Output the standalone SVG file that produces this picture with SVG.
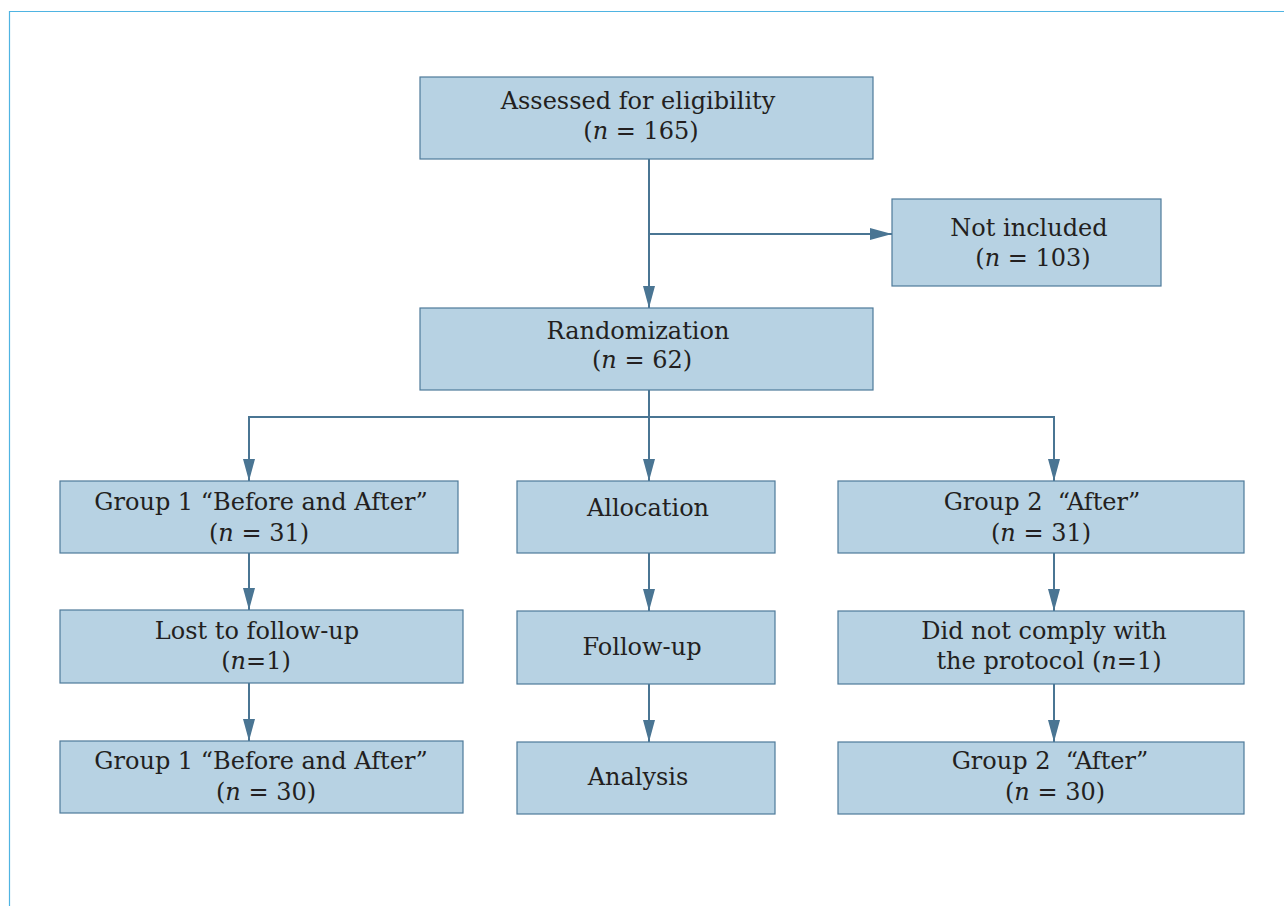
<svg xmlns="http://www.w3.org/2000/svg" width="1284" height="906" viewBox="0 0 1284 906">
<style>
.box{fill:#b7d2e3;stroke:#4e7a99;stroke-width:1.2}
.t{font-family:"DejaVu Serif","Liberation Serif",serif;font-size:24px;fill:#231f20;text-anchor:middle}
.i{font-style:italic}
.c{fill:none;stroke:#4a7593;stroke-width:2}
</style>
<defs>
<marker id="ah" viewBox="0 0 22 12" refX="22" refY="6" markerWidth="22" markerHeight="12" markerUnits="userSpaceOnUse" orient="auto">
<path d="M0,0 L22,6 L0,12 Z" fill="#4a7593"/>
</marker>
</defs>
<rect width="1284" height="906" fill="#ffffff"/>
<path d="M9.5,906 V11.5 H1284" fill="none" stroke="#4fb4e2" stroke-width="1.2"/>
<g id="connectors">
<path class="c" d="M649,159 V308" marker-end="url(#ah)"/>
<path class="c" d="M649,234 H892" marker-end="url(#ah)"/>
<path class="c" d="M649,390 V481" marker-end="url(#ah)"/>
<path class="c" d="M249,481 V417 H1054 V481" marker-end="url(#ah)"/>
<path class="c" d="M249,417 V481" marker-end="url(#ah)"/>
<path class="c" d="M249,553 V610" marker-end="url(#ah)"/>
<path class="c" d="M649,553 V611" marker-end="url(#ah)"/>
<path class="c" d="M1054,553 V611" marker-end="url(#ah)"/>
<path class="c" d="M249,683 V741" marker-end="url(#ah)"/>
<path class="c" d="M649,684 V742" marker-end="url(#ah)"/>
<path class="c" d="M1054,684 V742" marker-end="url(#ah)"/>
</g>
<g id="assessed">
<rect class="box" x="420" y="77" width="453" height="82"/>
<text class="t" x="638" y="109">Assessed for eligibility</text>
<text class="t" x="641" y="139">(<tspan class="i">n</tspan> = 165)</text>
</g>
<g id="not-included">
<rect class="box" x="892" y="199" width="269" height="87"/>
<text class="t" x="1029" y="236">Not included</text>
<text class="t" x="1033" y="266">(<tspan class="i">n</tspan> = 103)</text>
</g>
<g id="randomization">
<rect class="box" x="420" y="308" width="453" height="82"/>
<text class="t" x="638" y="339">Randomization</text>
<text class="t" x="642" y="368">(<tspan class="i">n</tspan> = 62)</text>
</g>
<g id="group1">
<rect class="box" x="60" y="481" width="398" height="72"/>
<text class="t" x="261" y="510">Group 1 “Before and After”</text>
<text class="t" x="259" y="541">(<tspan class="i">n</tspan> = 31)</text>
</g>
<g id="allocation">
<rect class="box" x="517" y="481" width="258" height="72"/>
<text class="t" x="648" y="516">Allocation</text>
</g>
<g id="group2">
<rect class="box" x="838" y="481" width="406" height="72"/>
<text class="t" x="1042" y="510">Group 2&#160; “After”</text>
<text class="t" x="1041" y="541">(<tspan class="i">n</tspan> = 31)</text>
</g>
<g id="lost">
<rect class="box" x="60" y="610" width="403" height="73"/>
<text class="t" x="257" y="639">Lost to follow-up</text>
<text class="t" x="256" y="669">(<tspan class="i">n</tspan>=1)</text>
</g>
<g id="followup">
<rect class="box" x="517" y="611" width="258" height="73"/>
<text class="t" x="642" y="655">Follow-up</text>
</g>
<g id="noncomply">
<rect class="box" x="838" y="611" width="406" height="73"/>
<text class="t" x="1044" y="639">Did not comply with</text>
<text class="t" x="1049" y="669">the protocol (<tspan class="i">n</tspan>=1)</text>
</g>
<g id="group1-final">
<rect class="box" x="60" y="741" width="403" height="72"/>
<text class="t" x="261" y="769">Group 1 “Before and After”</text>
<text class="t" x="266" y="800">(<tspan class="i">n</tspan> = 30)</text>
</g>
<g id="analysis">
<rect class="box" x="517" y="742" width="258" height="72"/>
<text class="t" x="638" y="785">Analysis</text>
</g>
<g id="group2-final">
<rect class="box" x="838" y="742" width="406" height="72"/>
<text class="t" x="1050" y="769">Group 2&#160; “After”</text>
<text class="t" x="1055" y="800">(<tspan class="i">n</tspan> = 30)</text>
</g>
</svg>
